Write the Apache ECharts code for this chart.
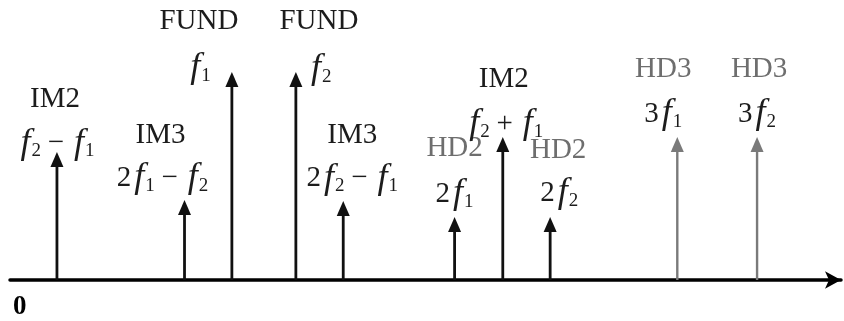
<!DOCTYPE html>
<html>
<head>
<meta charset="utf-8">
<script src="https://cdn.jsdelivr.net/npm/echarts@6/dist/echarts.min.js"></script>
<style>
  html, body { margin: 0; padding: 0; background: #fff; }
  #chart { width: 844px; height: 321px; }
</style>
</head>
<body>
<div id="chart"></div>
<script>
// spectrum components (schematic frequency position, relative amplitude)
const names = ['IM2', 'IM3', 'FUND', 'FUND', 'IM3', 'HD2', 'IM2', 'HD2', 'HD3', 'HD3']
const formulas = [
  '{i|f}{s|2}{o|−}{i|f}{s|1}',
  '{t|2}{i|f}{s|1}{o|−}{i|f}{s|2}',
  '{i|f}{s|1}',
  '{i|f}{s|2}',
  '{t|2}{i|f}{s|2}{o|−}{i|f}{s|1}',
  '{t|2}{i|f}{s|1}',
  '{i|f}{s|2}{o|+}{i|f}{s|1}',
  '{t|2}{i|f}{s|2}',
  '{t|3}{i|f}{s|1}',
  '{t|3}{i|f}{s|2}'
]
const freqs = [5.65, 21.0, 26.7, 34.4, 40.1, 53.5, 59.3, 65.0, 80.3, 89.9]
const amps = [45.7, 28.6, 74.3, 74.3, 28.2, 22.5, 51.1, 22.5, 51.1, 51.1]
const grayName = [false, false, false, false, false, true, false, true, true, true]
const grayStem = [false, false, false, false, false, false, false, false, true, true]

// label offsets from arrow tip, px: [nameDx, nameDy, formulaDx, formulaDy]
const labelOffsets = [
  [-2, -53, -1, -9],
  [-24, -65, -22, -22],
  [-33, -51, -33, -4],
  [23, -51, 24, -3],
  [9, -66, 9, -23],
  [0, -69, 0, -23],
  [1, -58, 2, -13],
  [8, -67, 9, -24],
  [-14, -68, -14, -23],
  [2, -68, 0, -23]
]

const serif = "'Liberation Serif', 'DejaVu Serif', serif"
const ink = '#1c1c1c'
const rich = {
  t: { fontSize: 29, fontFamily: serif, fill: ink },
  o: { fontSize: 29, fontFamily: serif, fill: ink, width: 30, align: 'center' },
  i: { fontSize: 36, fontFamily: serif, fontStyle: 'italic', fill: ink, padding: [0, 0, 0, 3] },
  s: { fontSize: 19, fontFamily: serif, fill: ink, padding: [16, 0, 0, 1] }
}

const data = freqs.map((f, i) => [f, amps[i], i])

const chart = echarts.init(document.getElementById('chart'))
chart.setOption({
  animation: false,
  grid: { left: 10, right: 2, top: 0, bottom: 41 },
  xAxis: {
    type: 'value',
    min: 0,
    max: 100,
    interval: 100,
    splitLine: { show: false },
    axisTick: { show: false },
    axisLine: {
      lineStyle: { color: '#000', width: 3.5 },
      symbol: ['none', 'arrow'],
      symbolSize: [13, 16]
    },
    axisLabel: {
      formatter: v => (v === 0 ? '0' : ''),
      fontFamily: serif,
      fontWeight: 'bold',
      fontSize: 27,
      color: '#000',
      margin: 14,
      align: 'left',
      padding: [0, 0, 0, 3]
    }
  },
  yAxis: {
    type: 'value',
    min: 0,
    max: 100,
    show: false
  },
  series: [{
    type: 'custom',
    data: data,
    renderItem: (params, api) => {
      const idx = api.value(2)
      const foot = api.coord([api.value(0), 0])
      const tip = api.coord([api.value(0), api.value(1)])
      const col = grayStem[idx] ? '#7a7a7a' : '#111'
      const off = labelOffsets[idx]
      return {
        type: 'group',
        children: [
          {
            type: 'line',
            shape: { x1: foot[0], y1: foot[1], x2: tip[0], y2: tip[1] + 10 },
            style: { stroke: col, lineWidth: grayStem[idx] ? 2.4 : 2.8 }
          },
          {
            type: 'polygon',
            shape: { points: [[tip[0] - 6.5, tip[1] + 15], [tip[0], tip[1]], [tip[0] + 6.5, tip[1] + 15]] },
            style: { fill: col }
          },
          {
            type: 'text',
            x: tip[0] + off[0],
            y: tip[1] + off[1],
            style: {
              text: names[idx],
              fontFamily: serif,
              fontSize: 29,
              fill: grayName[idx] ? '#6e6e6e' : ink,
              align: 'center',
              verticalAlign: 'middle'
            }
          },
          {
            type: 'text',
            x: tip[0] + off[2],
            y: tip[1] + off[3],
            style: {
              text: formulas[idx],
              rich: rich,
              align: 'center',
              verticalAlign: 'middle'
            }
          }
        ]
      }
    }
  }]
})
</script>
</body>
</html>
